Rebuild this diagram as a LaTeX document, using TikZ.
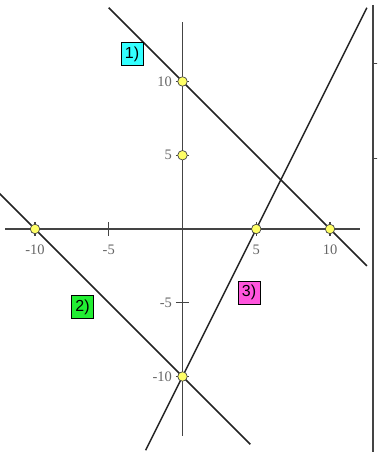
\documentclass[tikz,border=0pt]{standalone}
\usepackage{fontspec}
\setmainfont{Liberation Serif}
\newfontfamily\labsans{Liberation Sans}
\definecolor{axisgray}{HTML}{444444}
\definecolor{linedark}{HTML}{222222}
\definecolor{numgray}{HTML}{666666}
\definecolor{dotyellow}{HTML}{FFFF66}
\definecolor{boxcyan}{HTML}{33FFFF}
\definecolor{boxgreen}{HTML}{22EE33}
\definecolor{boxmagenta}{HTML}{FF55DD}
\begin{document}
\begin{tikzpicture}[x=14.75pt,y=14.75pt,
  axisline/.style={draw=axisgray,line width=1.3pt},
  graphline/.style={draw=linedark,line width=1.5pt},
  tickmark/.style={draw=axisgray,line width=1.1pt},
  numlabel/.style={text=numgray,font=\fontsize{14.5}{14.5}\selectfont,inner sep=0pt},
  dotpt/.style={circle,fill=dotyellow,draw=axisgray,line width=0.7pt,minimum size=9.5pt,inner sep=0pt},
  tagbox/.style={draw=black,line width=0.8pt,minimum width=22pt,minimum height=23pt,inner sep=1pt,font=\labsans\fontsize{16}{16}\selectfont}]
\useasboundingbox (-12.373,-15.254) rectangle (13.186,15.525);
\clip (-12.373,-15.254) rectangle (13.186,15.525);
% axes
\coordinate (xl) at (-12,0); \coordinate (xr) at (12,0);
\coordinate (yb) at (0,-14); \coordinate (yt) at (0,14);
\draw[axisline] (xl) -- (xr);
\draw[axisline] (yb) -- (yt);
% ticks
\foreach \t in {-10,-5,5,10} {
  \draw[tickmark] (\t,-0.45) -- (\t,0.45);
  \draw[tickmark] (-0.45,\t) -- (0.45,\t);
}
% tick labels
\foreach \t in {-10,-5,5,10} {
  \node[numlabel] (xlab\t) at (\t,-1.42) {\t};
  \node[numlabel,anchor=east] (ylab\t) at (-0.71,\t) {\t};
}
% right edge partial axis
\coordinate (ra) at (12.93,15.2); \coordinate (rb) at (12.93,-15.1);
\draw[draw=axisgray,line width=1.8pt] (ra) -- (rb);
\coordinate (rt1) at (12.93,11.25); \coordinate (rt1e) at (13.3,11.25);
\coordinate (rt2) at (12.93,4.75); \coordinate (rt2e) at (13.3,4.75);
\draw[tickmark] (rt1) -- (rt1e);
\draw[tickmark] (rt2) -- (rt2e);
% graph lines
\coordinate (a1) at (-5,15); \coordinate (a2) at (12.5,-2.5);
\coordinate (b1) at (-13,3); \coordinate (b2) at (4.6,-14.6);
\coordinate (c1) at (-2.5,-15); \coordinate (c2) at (12.5,15);
\draw[graphline] (a1) -- (a2);
\draw[graphline] (b1) -- (b2);
\draw[graphline] (c1) -- (c2);
% points
\node[dotpt] (p1) at (0,10) {};
\node[dotpt] (p2) at (0,5) {};
\node[dotpt] (p3) at (-10,0) {};
\node[dotpt] (p4) at (5,0) {};
\node[dotpt] (p5) at (10,0) {};
\node[dotpt] (p6) at (0,-10) {};
% tags
\node[tagbox,fill=boxcyan] (t1) at (-3.42,11.86) {1)};
\node[tagbox,fill=boxgreen] (t2) at (-6.78,-5.29) {2)};
\node[tagbox,fill=boxmagenta] (t3) at (4.51,-4.31) {3)};
\end{tikzpicture}
\end{document}
